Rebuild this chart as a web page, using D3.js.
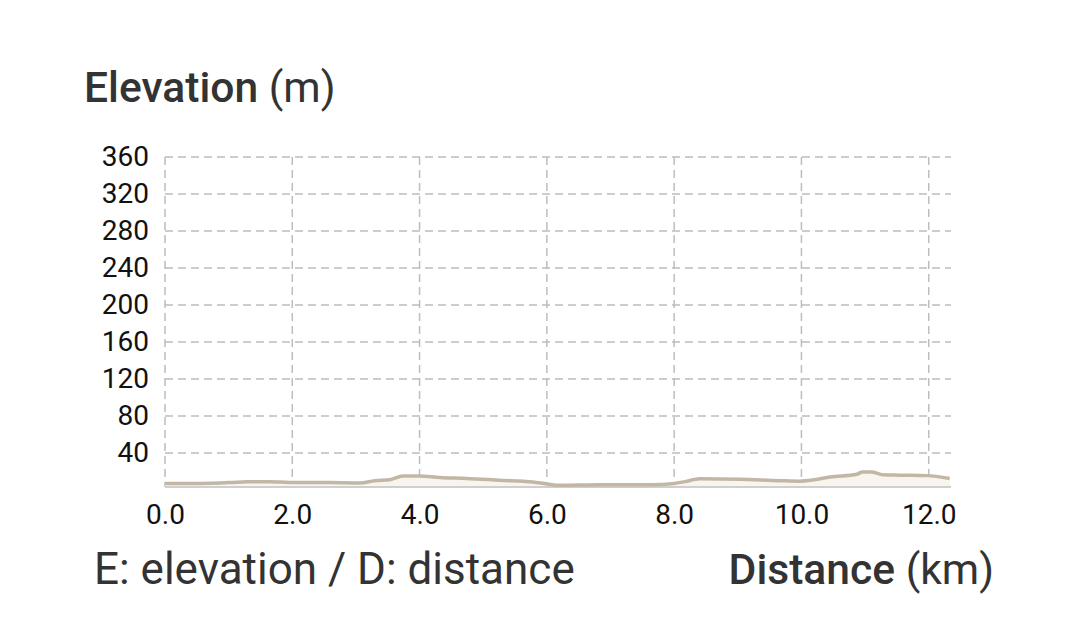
<!DOCTYPE html>
<html><head><meta charset="utf-8">
<script src="https://cdnjs.cloudflare.com/ajax/libs/d3/7.8.5/d3.min.js"></script>
<style>body{margin:0;background:#fff}svg{display:block}</style>
</head><body>
<svg id="c" width="1080" height="637"></svg>
<script>
const distance = [0,0.55,1.02,1.29,1.65,2.0,2.59,3.06,3.3,3.53,3.74,3.99,4.32,4.74,5.26,5.78,6.0,6.2,6.83,7.46,7.82,8.0,8.17,8.4,9.03,9.66,9.97,10.2,10.45,10.87,10.96,11.1,11.28,11.54,11.97,12.33];
const elevation = [7,7,8,9,9,8,8,7.5,10,11,15,15,13.5,12.5,10.5,8.5,6.5,5,5.5,5.5,6,7,9,12,11.5,10,9.5,11,14,17,19.5,19.5,16.5,16,15.5,12.5];
const yTicks = [40,80,120,160,200,240,280,320,360];
const xTicks = [0,2,4,6,8,10,12];
const yTitle = ["Elevation", " (m)"];
const xTitle = ["Distance", " (km)"];
const note = "E: elevation / D: distance";

const svg = d3.select("#c");
const L=165, R=951, T=157, B=487;
const x = d3.scaleLinear().domain([0,12.35]).range([L,R]);
const y = d3.scaleLinear().domain([3.2,360]).range([B,T]);
const font = "Roboto, 'Noto Sans', sans-serif";
const pts = distance.map((d,i)=>[d,elevation[i]]);

// grid
const g = svg.append("g");
g.selectAll(".hy").data(yTicks).join("line")
  .attr("x1",L).attr("x2",R).attr("y1",d=>y(d)).attr("y2",d=>y(d))
  .attr("stroke","#bdbdbd").attr("stroke-width",1.5).attr("stroke-dasharray","8,5");
g.selectAll(".vx").data(xTicks).join("line")
  .attr("x1",d=>x(d)).attr("x2",d=>x(d)).attr("y1",T).attr("y2",B)
  .attr("stroke","#bdbdbd").attr("stroke-width",1.5).attr("stroke-dasharray","8,5");

// area
svg.append("path").datum(pts)
  .attr("d", d3.area().x(d=>x(d[0])).y0(B).y1(d=>y(d[1])).curve(d3.curveMonotoneX))
  .attr("fill","#f8f5ef");
// baseline
svg.append("line").attr("x1",L).attr("x2",R).attr("y1",B).attr("y2",B)
  .attr("stroke","#cfcfcf").attr("stroke-width",2);
svg.append("path").datum(pts)
  .attr("d", d3.line().x(d=>x(d[0])).y(d=>y(d[1])).curve(d3.curveMonotoneX))
  .attr("fill","none").attr("stroke","#c2b7a4").attr("stroke-width",3.5);

// y tick labels
svg.append("g").attr("transform",`translate(${L-16},0)`)
  .call(d3.axisLeft(y).tickValues(yTicks).tickSize(0).tickPadding(0).tickFormat(d3.format("d")))
  .call(s=>s.select(".domain").remove())
  .selectAll("text").attr("font-family",font).attr("font-size",28).attr("fill","#111");
// x tick labels
svg.append("g").attr("transform",`translate(0,${B+17})`)
  .call(d3.axisBottom(x).tickValues(xTicks).tickSize(0).tickPadding(0).tickFormat(d3.format(".1f")))
  .call(s=>s.select(".domain").remove())
  .selectAll("text").attr("font-family",font).attr("font-size",28).attr("fill","#111");

// titles
const t1 = svg.append("text").attr("x",84).attr("y",102).attr("font-family",font).attr("font-size",42.6).attr("fill","#333");
t1.append("tspan").attr("font-weight",500).text(yTitle[0]);
t1.append("tspan").attr("font-weight",400).text(yTitle[1]);
const t2 = svg.append("text").attr("x",994).attr("y",584).attr("text-anchor","end").attr("font-family",font).attr("font-size",42.6).attr("fill","#333");
t2.append("tspan").attr("font-weight",500).text(xTitle[0]);
t2.append("tspan").attr("font-weight",400).text(xTitle[1]);
svg.append("text").attr("x",94).attr("y",584).attr("font-family",font).attr("font-size",44).attr("fill","#333").text(note);
</script>
</body></html>
